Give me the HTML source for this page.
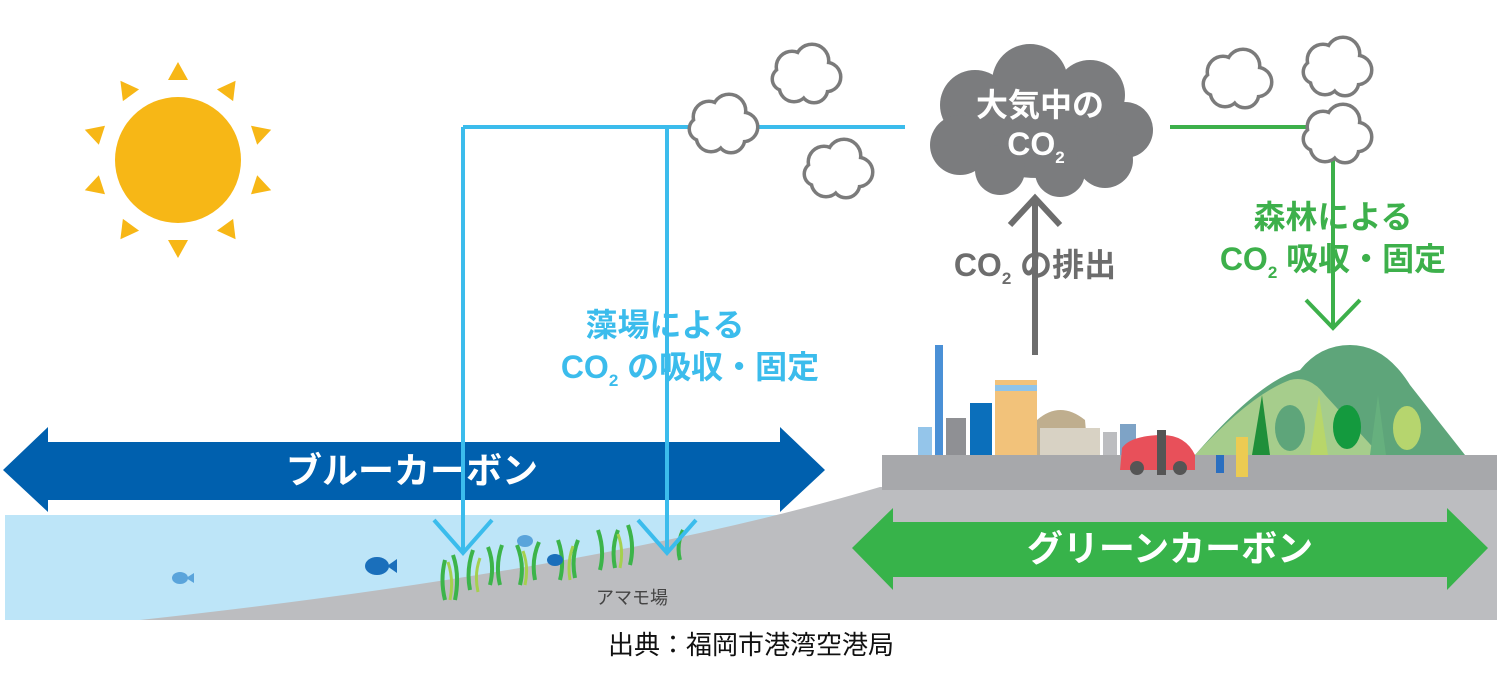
<!DOCTYPE html>
<html><head><meta charset="utf-8"><style>
body{margin:0;background:#fff}
svg{display:block}
text{font-family:"Liberation Sans","Noto Sans CJK JP",sans-serif;font-weight:bold}
text.n{font-weight:normal}
</style></head><body>
<svg width="1500" height="681" viewBox="0 0 1500 681" xmlns="http://www.w3.org/2000/svg">
<defs>
<g id="cl">
 <g fill="none" stroke="#7b7b7b" stroke-width="7">
  <circle cx="-14" cy="-8" r="14"/><circle cx="6" cy="-14" r="15"/><circle cx="20" cy="2" r="13"/><circle cx="8" cy="14" r="12"/><circle cx="-12" cy="12" r="13"/><circle cx="-22" cy="4" r="10"/>
 </g>
 <g fill="#fff">
  <circle cx="-14" cy="-8" r="14"/><circle cx="6" cy="-14" r="15"/><circle cx="20" cy="2" r="13"/><circle cx="8" cy="14" r="12"/><circle cx="-12" cy="12" r="13"/><circle cx="-22" cy="4" r="10"/><circle cx="0" cy="0" r="16"/>
 </g>
</g>
<path id="ray" d="M168 80 L188 80 L178 62Z"/>
</defs>
<rect x="5" y="515" width="860" height="105" fill="#bde5f8"/>
<path d="M140 620 Q600 570 880 487 L1497 487 L1497 620 Z" fill="#bcbdc0"/>
<rect x="882" y="455" width="615" height="35" fill="#a7a8ab"/>
<path d="M1195 455 Q1260 380 1300 370 Q1320 345 1350 345 Q1385 345 1410 385 L1465 455 Z" fill="#5ea57a"/>
<path d="M1195 455 Q1250 395 1290 380 Q1310 375 1325 395 L1380 455 Z" fill="#a6cd8c"/>
<g>
 <path d="M1252 455 L1262 395 L1270 455Z" fill="#1f8f3a"/>
 <ellipse cx="1290" cy="428" rx="15" ry="23" fill="#5ea57a"/>
 <path d="M1310 455 L1319 395 L1328 455Z" fill="#b8d66a"/>
 <ellipse cx="1347" cy="427" rx="14" ry="22" fill="#149a3e"/>
 <path d="M1370 455 L1378 395 L1386 455Z" fill="#66b07e"/>
 <ellipse cx="1407" cy="428" rx="14" ry="22" fill="#b6d56e"/>
</g>
<rect x="918" y="427" width="14" height="28" fill="#94c5ea"/>
<rect x="935" y="345" width="8" height="110" fill="#4a90d6"/>
<rect x="946" y="418" width="20" height="37" fill="#8f9094"/>
<rect x="970" y="403" width="22" height="52" fill="#0b6fbb"/>
<rect x="995" y="380" width="42" height="75" fill="#f2c27a"/>
<rect x="995" y="385" width="42" height="6" fill="#8fc4ea"/>
<path d="M1037 455 L1037 420 Q1060 400 1085 420 L1088 455Z" fill="#bfae8e"/>
<rect x="1040" y="428" width="60" height="27" fill="#d8d2c4"/>
<rect x="1103" y="432" width="14" height="23" fill="#bcbdc0"/>
<rect x="1120" y="424" width="16" height="31" fill="#7ea3c6"/>
<path d="M1120 470 L1122 448 Q1130 436 1160 435 Q1185 434 1195 455 L1195 470Z" fill="#e8505a"/>
<circle cx="1137" cy="468" r="7" fill="#555"/><circle cx="1180" cy="468" r="7" fill="#555"/>
<rect x="1157" y="430" width="9" height="45" fill="#555"/>
<rect x="1236" y="437" width="12" height="40" fill="#eccb52"/>
<rect x="1216" y="455" width="8" height="18" fill="#2b6fc0"/>
<path d="M3 470 L48 427 L48 442 L780 442 L780 427 L825 470 L780 512 L780 500 L48 500 L48 512 Z" fill="#0060ae"/>
<text x="412" y="483" font-size="36" fill="#fff" text-anchor="middle">ブルーカーボン</text>
<path d="M852 548 L893 508 L893 522 L1447 522 L1447 508 L1488 548 L1447 590 L1447 577 L893 577 L893 590 Z" fill="#37b34a"/>
<text x="1170" y="561" font-size="36" fill="#fff" text-anchor="middle">グリーンカーボン</text>
<g stroke="#3cb44a" stroke-width="4" fill="none">
 <path d="M445 600 q-5-20 0-40 M455 600 q5-25 -2-45 M470 590 q-4-20 3-40 M490 585 q5-20 -2-38 M500 585 q-5-20 2-40 M520 585 q5-20 -3-40 M535 580 q-4-20 4-38 M560 580 q5-20 -2-40 M575 578 q-4-20 3-38 M600 570 q5-20 -2-40 M615 568 q-4-20 3-38 M630 565 q5-20 -2-40 M680 560 q-4-15 3-30"/>
</g>
<g stroke="#a5d04e" stroke-width="3" fill="none">
 <path d="M450 600 q4-20 -2-38 M478 592 q-4-18 2-34 M525 585 q4-18 -2-34 M570 580 q-3-18 3-34 M620 568 q4-18 -2-34"/>
</g>
<ellipse cx="377" cy="566" rx="12" ry="9" fill="#1a6fbb"/><path d="M387 566 L397 559 L397 573Z" fill="#1a6fbb"/>
<ellipse cx="180" cy="578" rx="8" ry="6" fill="#5aa4db"/><path d="M186 578 L194 573 L194 583Z" fill="#5aa4db"/>
<ellipse cx="525" cy="541" rx="8" ry="6" fill="#5aa4db"/>
<ellipse cx="555" cy="560" rx="8" ry="6" fill="#1a6fbb"/>
<text class="n" x="632" y="604" font-size="18" fill="#444" text-anchor="middle">アマモ場</text>
<g stroke="#3bbcec" stroke-width="4" fill="none">
 <path d="M463 127 L905 127 M463 127 L463 553 M667 127 L667 553"/>
 <path d="M434 520 L463 553 L492 520 M638 520 L667 553 L696 520"/>
</g>
<text x="665" y="336" font-size="32" fill="#3bbcec" text-anchor="middle">藻場による</text>
<text x="690" y="378" font-size="32" fill="#3bbcec" text-anchor="middle">CO<tspan font-size="17" dy="8">2</tspan><tspan dy="-8"> の吸収・固定</tspan></text>
<g stroke="#3db04b" stroke-width="4" fill="none">
 <path d="M1170 127 L1333 127 L1333 328 M1306 300 L1333 328 L1360 300"/>
</g>
<text x="1333" y="228" font-size="32" fill="#3db04b" text-anchor="middle">森林による</text>
<text x="1333" y="270" font-size="32" fill="#3db04b" text-anchor="middle">CO<tspan font-size="17" dy="8">2</tspan><tspan dy="-8"> 吸収・固定</tspan></text>
<g stroke="#6d6d6d" stroke-width="6" fill="none">
 <path d="M1035 355 L1035 200 M1010 225 L1035 198 L1060 225"/>
</g>
<text x="1035" y="276" font-size="32" fill="#6d6d6d" text-anchor="middle">CO<tspan font-size="17" dy="8">2</tspan><tspan dy="-8"> の排出</tspan></text>
<g fill="#7b7c7e">
 <ellipse cx="1040" cy="130" rx="95" ry="48"/>
 <circle cx="975" cy="105" r="35"/><circle cx="1030" cy="82" r="38"/><circle cx="1090" cy="95" r="35"/><circle cx="1125" cy="130" r="28"/>
 <circle cx="960" cy="145" r="30"/><circle cx="1000" cy="170" r="25"/><circle cx="1060" cy="172" r="25"/><circle cx="1105" cy="160" r="28"/>
</g>
<text x="1040" y="116" font-size="32" fill="#fff" text-anchor="middle">大気中の</text>
<text x="1036" y="155" font-size="32" fill="#fff" text-anchor="middle">CO<tspan font-size="17" dy="8">2</tspan></text>
<use href="#cl" x="723" y="125"/>
<use href="#cl" x="806" y="75"/>
<use href="#cl" x="838" y="170"/>
<use href="#cl" x="1237" y="80"/>
<use href="#cl" x="1337" y="68"/>
<use href="#cl" x="1337" y="135"/>
<circle cx="178" cy="160" r="63" fill="#f7b716"/>
<g fill="#f7b716">
 <use href="#ray"/>
 <use href="#ray" transform="rotate(36 178 160)"/>
 <use href="#ray" transform="rotate(72 178 160)"/>
 <use href="#ray" transform="rotate(108 178 160)"/>
 <use href="#ray" transform="rotate(144 178 160)"/>
 <use href="#ray" transform="rotate(180 178 160)"/>
 <use href="#ray" transform="rotate(216 178 160)"/>
 <use href="#ray" transform="rotate(252 178 160)"/>
 <use href="#ray" transform="rotate(288 178 160)"/>
 <use href="#ray" transform="rotate(324 178 160)"/>
</g>
<text class="n" x="751" y="654" font-size="26" fill="#111" text-anchor="middle">出典：福岡市港湾空港局</text>
</svg>
</body></html>
